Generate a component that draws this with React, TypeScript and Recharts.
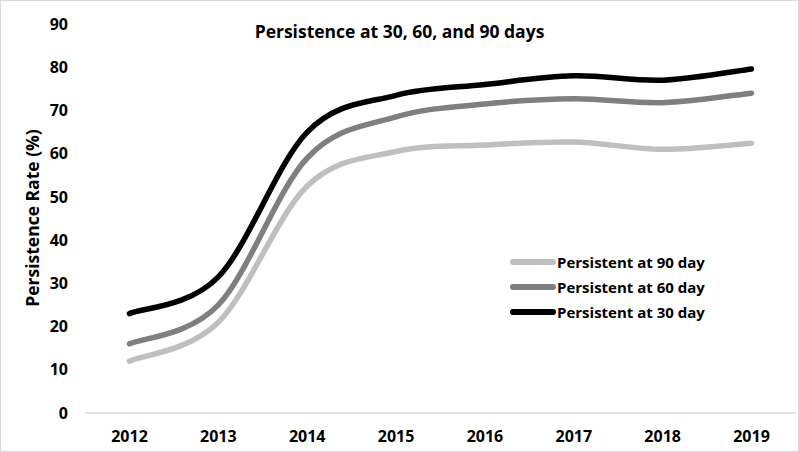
import { LineChart, Line, XAxis, YAxis } from "recharts";

const years = ["2012", "2013", "2014", "2015", "2016", "2017", "2018", "2019"];
const day90 = [12, 21, 52.5, 60.5, 62, 62.7, 61, 62.4];
const day60 = [16, 25, 59, 68.5, 71.5, 72.7, 71.8, 74];
const day30 = [23, 31.5, 65, 73.5, 76, 78, 77, 79.6];
const yTicks = [0, 10, 20, 30, 40, 50, 60, 70, 80, 90];

const seriesInfo = [
  { key: "d90", name: "Persistent at 90 day", color: "#bfbfbf" },
  { key: "d60", name: "Persistent at 60 day", color: "#7f7f7f" },
  { key: "d30", name: "Persistent at 30 day", color: "#000000" },
];

const data = years.map((y, i) => ({ year: y, d90: day90[i], d60: day60[i], d30: day30[i] }));

const FONT = "'Open Sans', sans-serif";

// Excel-style smoothed line: Catmull-Rom segments drawn as cubic beziers
function excelSmooth(context: any) {
  let pts: [number, number][] = [];
  return {
    areaStart() {},
    areaEnd() {},
    lineStart() { pts = []; },
    point(x: number, y: number) { pts.push([+x, +y]); },
    lineEnd() {
      if (!pts.length) return;
      context.moveTo(pts[0][0], pts[0][1]);
      for (let i = 0; i < pts.length - 1; i++) {
        const p0 = pts[Math.max(i - 1, 0)];
        const p1 = pts[i];
        const p2 = pts[i + 1];
        const p3 = pts[Math.min(i + 2, pts.length - 1)];
        context.bezierCurveTo(
          p1[0] + (p2[0] - p0[0]) / 6, p1[1] + (p2[1] - p0[1]) / 6,
          p2[0] - (p3[0] - p1[0]) / 6, p2[1] - (p3[1] - p1[1]) / 6,
          p2[0], p2[1],
        );
      }
    },
  };
}

export default function App() {
  return (
    <div style={{ position: "absolute", left: 0, top: 0, width: 799, height: 452, background: "#fff" }}>
      <style>{"body{margin:0}"}</style>
      <LineChart width={799} height={452} data={data} margin={{ top: 24, right: 3, bottom: 0, left: 15 }}>
        <XAxis
          dataKey="year"
          height={39}
          padding={{ left: 44.5, right: 44.5 }}
          axisLine={{ stroke: "#d9d9d9", strokeWidth: 1.5 }}
          tickLine={false}
          tickSize={0}
          tickMargin={18}
          tick={{ fontFamily: FONT, fontWeight: 700, fontSize: 16, fill: "#000" }}
        />
        <YAxis
          width={70}
          domain={[0, 90]}
          ticks={yTicks}
          axisLine={false}
          tickLine={false}
          tickSize={0}
          tickMargin={17}
          tick={{ fontFamily: FONT, fontWeight: 700, fontSize: 16, fill: "#000" }}
        />
        {seriesInfo.map((s) => (
          <Line
            key={s.key}
            type={excelSmooth as any}
            dataKey={s.key}
            name={s.name}
            stroke={s.color}
            strokeWidth={5.5}
            strokeLinecap="round"
            dot={false}
            activeDot={false}
            isAnimationActive={false}
          />
        ))}
      </LineChart>
      <div
        style={{
          position: "absolute", left: 0, right: 0, top: 19, textAlign: "center",
          fontFamily: FONT, fontWeight: 700, fontSize: 17.5, color: "#000",
        }}
      >
        Persistence at 30, 60, and 90 days
      </div>
      <div style={{ position: "absolute", left: 32, top: 218, width: 0, height: 0 }}>
        <div
          style={{
            position: "absolute", left: 0, top: 0, transform: "translate(-50%, -50%) rotate(-90deg)",
            whiteSpace: "nowrap", fontFamily: FONT, fontWeight: 700, fontSize: 17.5, color: "#000",
          }}
        >
          Persistence Rate (%)
        </div>
      </div>
      <div
        style={{
          position: "absolute", left: 510, top: 249,
          fontFamily: FONT, fontWeight: 700, fontSize: 15, color: "#000",
        }}
      >
        {seriesInfo.map((s) => (
          <div key={s.key} style={{ display: "flex", alignItems: "center", height: 25 }}>
            <span style={{ width: 46, height: 6, borderRadius: 3, background: s.color, marginRight: 1 }} />
            <span>{s.name}</span>
          </div>
        ))}
      </div>
      <div style={{ position: "absolute", inset: 0, border: "1px solid #d9d9d9", pointerEvents: "none" }} />
    </div>
  );
}
